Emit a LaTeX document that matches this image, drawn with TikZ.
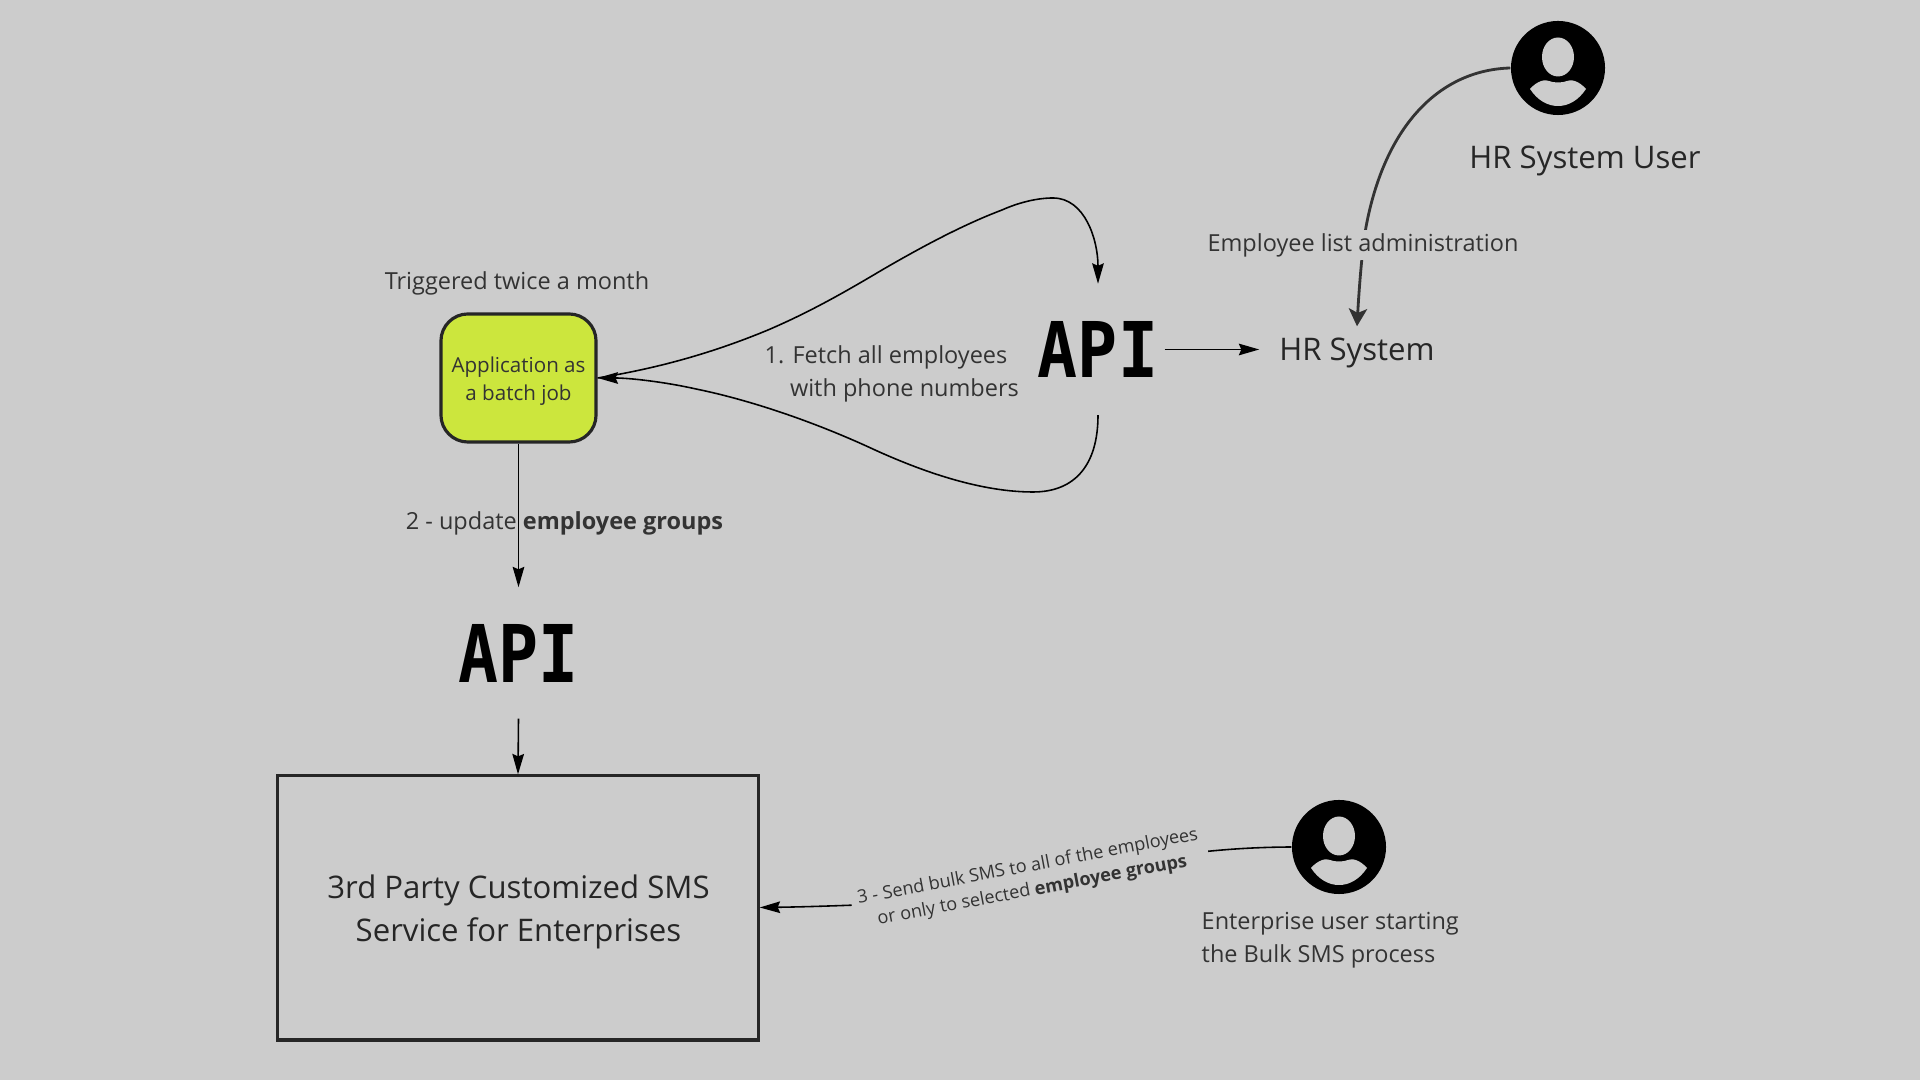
\documentclass[tikz,border=0pt]{standalone}
\usepackage{fontspec}
\setmainfont{Open Sans}
\newfontfamily\apifont{DejaVu Sans Mono}
\usetikzlibrary{arrows.meta}
\definecolor{bggray}{HTML}{CCCCCC}
\definecolor{ink}{HTML}{333333}
\definecolor{lime}{HTML}{CCE63D}
\tikzset{
  conn/.style={line width=.45pt,black,-{Stealth[length=5.8pt,width=3.3pt,inset=.7pt]}},
  connbig/.style={line width=.8pt,ink,-{Stealth[length=5pt,width=5.2pt,inset=1.2pt]}},
  apinode/.style={minimum width=1.32cm,minimum height=1.3cm,inner sep=0pt,font=\apifont\bfseries},
  usernode/.style={circle,fill=black,minimum size=.94cm,inner sep=0pt},
  bigtext/.style={text=black!85,font=\fontsize{8.85}{12.2}\selectfont,align=center,inner sep=0pt},
  midtext/.style={text=ink,font=\fontsize{6.68}{9.3}\selectfont,align=left,inner sep=0pt},
}
\begin{document}
\begin{tikzpicture}[x=.01cm,y=-.01cm]
\fill[bggray] (0,0) rectangle (1920,1080);
% boxes
\node[draw=black!85,line width=.9pt,fill=lime,rounded corners=.27cm,minimum width=1.55cm,minimum height=1.28cm,inner sep=0pt] (app) at (518.5,378) {};
\node[text=ink,align=center,inner sep=0pt,font=\fontsize{5.85}{8}\selectfont] (apptext) at (518.5,381.5) {Application as\\a batch job};
\node[draw=black!85,line width=.9pt,minimum width=4.8cm,minimum height=2.64cm,inner sep=0pt] (smsbox) at (518,908) {};
\node[bigtext] (smstext) at (518.5,912) {3rd Party Customized SMS\\Service for Enterprises};
% api labels
\node[apinode] (apihr) at (1098,349.5) {\resizebox{1.2cm}{.56cm}{API}};
\node[apinode] (apisms) at (518.5,653) {\resizebox{1.2cm}{.58cm}{API}};
\node[bigtext,minimum width=1.94cm,minimum height=.52cm] (hrsys) at (1357,353) {HR System};
% users
\node[usernode] (hruser) at (1558,68) {};
\node[usernode] (smsuser) at (1339,847) {};
\foreach \who in {hruser,smsuser}{
  \begin{scope}[shift={(\who)}]
    \fill[bggray] (0,-11) ellipse [x radius=16,y radius=19.5];
    \fill[bggray] (-28,21) .. controls (-21,13) and (-13,11) .. (-9,13) .. controls (-5,15) and (5,15) .. (9,13) .. controls (13,11) and (21,13) .. (28,21) .. controls (20,33) and (10,38) .. (0,38) .. controls (-10,38) and (-20,33) .. (-28,21) -- cycle;
  \end{scope}
}
\node[bigtext] (hrusertext) at (1585,161) {HR System User};
% connectors
\draw[conn] (app.east) .. controls (660,368) and (715,352) .. (768,330) .. controls (810,312) and (845,292) .. (882,270) .. controls (925,245) and (965,224) .. (1002,210) .. controls (1020,202) and (1038,198) .. (1053,198) .. controls (1085,198) and (1098,240) .. (apihr.north);
\draw[conn] (apihr.south) .. controls (1098,465) and (1075,492) .. (1033,492) .. controls (985,492) and (930,475) .. (875,450) .. controls (815,422) and (750,400) .. (696,389) .. controls (665,382) and (630,378) .. (app.east);
\draw[conn] (apihr.east) -- (apihr.east -| hrsys.west);
\draw[conn] (app.south) -- (apisms.north);
\draw[conn] (apisms.south) -- (smsbox.north);
\draw[connbig] (hruser.west) .. controls (1440,70) and (1385,125) .. (1366,227) .. controls (1362,250) and (1359,290) .. (hrsys.north);
\draw[conn] (smsuser.west) .. controls (1100,848) and (1030,905) .. (857,905) .. controls (830,906) and (800,907) .. (smsbox.east |- 0,907.5);
% labels
\node[midtext,fill=bggray,inner xsep=1pt,inner ysep=1pt] (adminlabel) at (1363,245) {Employee list administration};
\node[midtext] (triglabel) at (517,283.5) {Triggered twice a month};
\node[midtext,anchor=west] (fetchlabel) at (764,374) {1. Fetch all employees\\\hspace*{7.2pt}with phone numbers};
\node[midtext] (updlabel) at (564.5,523.5) {2 - update \textbf{employee groups}};
\node[midtext,anchor=west] (startlabel) at (1201,940) {Enterprise user starting\\the Bulk SMS process};
\node[midtext,fill=bggray,rotate=10.7,align=center,inner xsep=2pt,inner ysep=1pt,font=\fontsize{5.15}{6.9}\selectfont] (bulklabel) at (1030,879) {3 - Send bulk SMS to all of the employees\\or only to selected \textbf{employee groups}};
\end{tikzpicture}
\end{document}
